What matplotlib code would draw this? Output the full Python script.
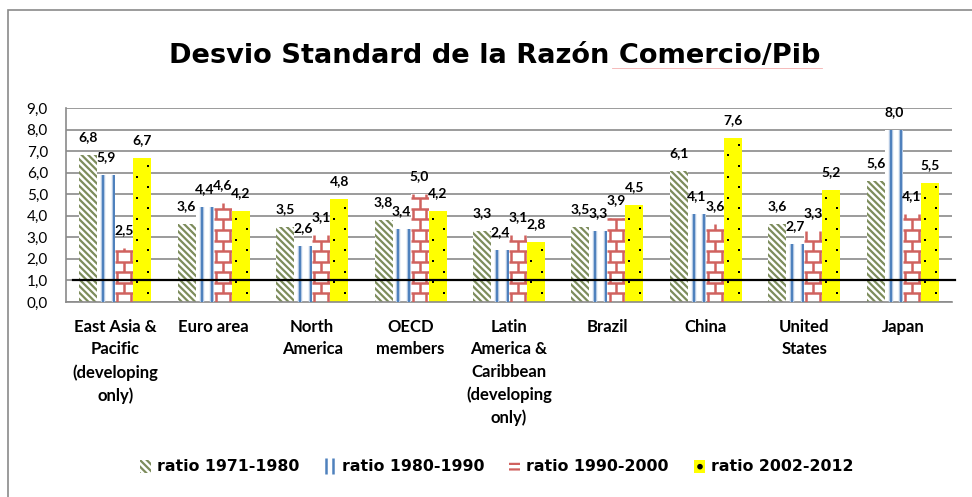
import numpy as np
import matplotlib
matplotlib.use("Agg")
import matplotlib.pyplot as plt
from matplotlib.collections import LineCollection
from matplotlib.patches import Patch, Rectangle
from matplotlib.lines import Line2D
from matplotlib.legend_handler import HandlerTuple
from matplotlib.ticker import FuncFormatter

# data
categories = [
    "East Asia &\nPacific\n(developing\nonly)",
    "Euro area",
    "North\nAmerica",
    "OECD\nmembers",
    "Latin\nAmerica &\nCaribbean\n(developing\nonly)",
    "Brazil",
    "China",
    "United\nStates",
    "Japan",
]
ratio_1971_1980 = [6.8, 3.6, 3.5, 3.8, 3.3, 3.5, 6.1, 3.6, 5.6]
ratio_1980_1990 = [5.9, 4.4, 2.6, 3.4, 2.4, 3.3, 4.1, 2.7, 8.0]
ratio_1990_2000 = [2.5, 4.6, 3.1, 5.0, 3.1, 3.9, 3.6, 3.3, 4.1]
ratio_2002_2012 = [6.7, 4.2, 4.8, 4.2, 2.8, 4.5, 7.6, 5.2, 5.5]
series_labels = ["ratio 1971-1980", "ratio 1980-1990", "ratio 1990-2000", "ratio 2002-2012"]
reference_level = 1.0

OLIVE = "#7d8c5c"
BLUE = "#4f81bd"
BLUE_LIGHT = "#b9cde5"
RED = "#d0625f"
YELLOW = "#ffff00"
GRID = "#8a8a8a"

plt.rcParams["hatch.linewidth"] = 1.6

fig = plt.figure(figsize=(9.72, 4.97), dpi=100)
ax = fig.add_axes([66 / 972, 1 - 302 / 497, 886 / 972, 194 / 497])

x = np.arange(len(categories))
w = 0.183
diag = "\\" * 5

bars1 = ax.bar(x - 1.5 * w, ratio_1971_1980, w, facecolor="white", edgecolor=OLIVE,
               hatch=diag, linewidth=0, zorder=2)
bars2 = ax.bar(x - 0.5 * w, ratio_1980_1990, w, facecolor="white", linewidth=0, zorder=2)
bars3 = ax.bar(x + 0.5 * w, ratio_1990_2000, w, facecolor="white", linewidth=0, zorder=2)
bars4 = ax.bar(x + 1.5 * w, ratio_2002_2012, w, facecolor=YELLOW, linewidth=0, zorder=2)

# blue: two vertical stripes per bar
for p in bars2:
    x0, wd, h = p.get_x(), p.get_width(), p.get_height()
    for rel in (0.33, 0.92):
        for col, lw in ((BLUE_LIGHT, 3.2), (BLUE, 1.5)):
            ln, = ax.plot([x0 + rel * wd] * 2, [0, h], color=col, lw=lw,
                          solid_capstyle="butt", zorder=3)
            ln.set_clip_path(p)

# red: brick pattern
step = 0.49
base = 0.4
for p in bars3:
    x0, wd, h = p.get_x(), p.get_width(), p.get_height()
    segs = []
    k = -1
    while base + k * step < h:
        lo = max(0.0, base + k * step)
        hi = min(h, base + (k + 1) * step)
        if k >= 0:
            segs.append([(x0, lo), (x0 + wd, lo)])
        if k % 2 == 0:
            segs.append([(x0 + wd / 2, lo), (x0 + wd / 2, hi)])
        else:
            segs.append([(x0 + 0.12 * wd, lo), (x0 + 0.12 * wd, hi)])
            segs.append([(x0 + 0.88 * wd, lo), (x0 + 0.88 * wd, hi)])
        k += 1
    lc = LineCollection(segs, colors=RED, linewidths=1.8, zorder=3)
    ax.add_collection(lc)
    lc.set_clip_path(p)

# yellow: staggered dots
for p in bars4:
    x0, wd, h = p.get_x(), p.get_width(), p.get_height()
    ks = np.arange(0, int((h - 0.43) / 0.49) + 1)
    ys = 0.43 + 0.49 * ks
    keep = ys < h - 0.1
    ks, ys = ks[keep], ys[keep]
    xs = np.where(ks % 2 == 0, x0 + 0.83 * wd, x0 + 0.22 * wd)
    ax.scatter(xs, ys, s=3, color="black", marker="s", linewidths=0, zorder=3)

# black reference line at 1.0
ax.plot([-0.43, 8.53], [reference_level, reference_level], color="black", lw=1.6,
        zorder=4, clip_on=False)

# value labels
for bars, vals in ((bars1, ratio_1971_1980), (bars2, ratio_1980_1990),
                   (bars3, ratio_1990_2000), (bars4, ratio_2002_2012)):
    for p, v in zip(bars, vals):
        ax.annotate(f"{v:.1f}".replace(".", ","), (p.get_x() + p.get_width() / 2, v),
                    xytext=(0, 10), textcoords="offset points", ha="center",
                    va="baseline", fontfamily="Lato", fontweight="bold", fontsize=10,
                    zorder=5)

ax.set_xlim(-0.5, 8.5)
ax.set_ylim(0, 9)
ax.set_yticks(np.arange(0, 9.1, 1))
ax.yaxis.set_major_formatter(FuncFormatter(lambda v, _: f"{v:.1f}".replace(".", ",")))
ax.set_xticks(x)
ax.set_xticklabels(categories, fontfamily="Lato", fontweight="bold", fontsize=12,
                   linespacing=1.5, va="top")
for lab in ax.get_yticklabels():
    lab.set_fontfamily("Lato")
    lab.set_fontsize(11)
ax.tick_params(axis="both", length=0)
ax.tick_params(axis="y", pad=13)
ax.tick_params(axis="x", pad=12)
ax.grid(axis="y", color=GRID, lw=1.2)
ax.set_axisbelow(True)
for s in ("top", "right"):
    ax.spines[s].set_visible(False)
for s in ("left", "bottom"):
    ax.spines[s].set_color(GRID)
    ax.spines[s].set_linewidth(1.2)

# title
fig.text(495 / 972, 1 - 63 / 497, "Desvio Standard de la Razón Comercio/Pib",
         ha="center", va="baseline", fontfamily="DejaVu Sans", fontweight="bold",
         fontsize=19.6)
fig.add_artist(Line2D([612 / 972, 822 / 972], [1 - 67.5 / 497] * 2,
                      transform=fig.transFigure, color="#f4b0b0", lw=0.6))

# outer chart border
fig.add_artist(Rectangle((7.5 / 972, -0.5), 2, 0.5 + 1 - 10 / 497, fill=False,
                         edgecolor=GRID, lw=1.2, transform=fig.transFigure))

# legend
h1 = Patch(facecolor="white", edgecolor=OLIVE, hatch=diag, linewidth=0)
bl = Line2D([], [], color=BLUE, marker="|", linestyle="None", markersize=11,
            markeredgewidth=1.8)
h2 = (bl, bl)
h3 = Patch(facecolor="white", edgecolor=RED, hatch="---", linewidth=0)
h4 = Patch(facecolor=YELLOW, edgecolor="black", hatch=".", linewidth=0)
fig.legend([h1, h2, h3, h4], series_labels, loc="center",
           bbox_to_anchor=(0.511, 0.0604), ncol=4, frameon=False,
           handler_map={tuple: HandlerTuple(ndivide=None, pad=0.2)},
           prop={"family": "DejaVu Sans", "weight": "bold", "size": 11.3},
           handlelength=0.7, handleheight=0.9, handletextpad=0.4, columnspacing=1.6)

fig.savefig("out.png", dpi=100)
